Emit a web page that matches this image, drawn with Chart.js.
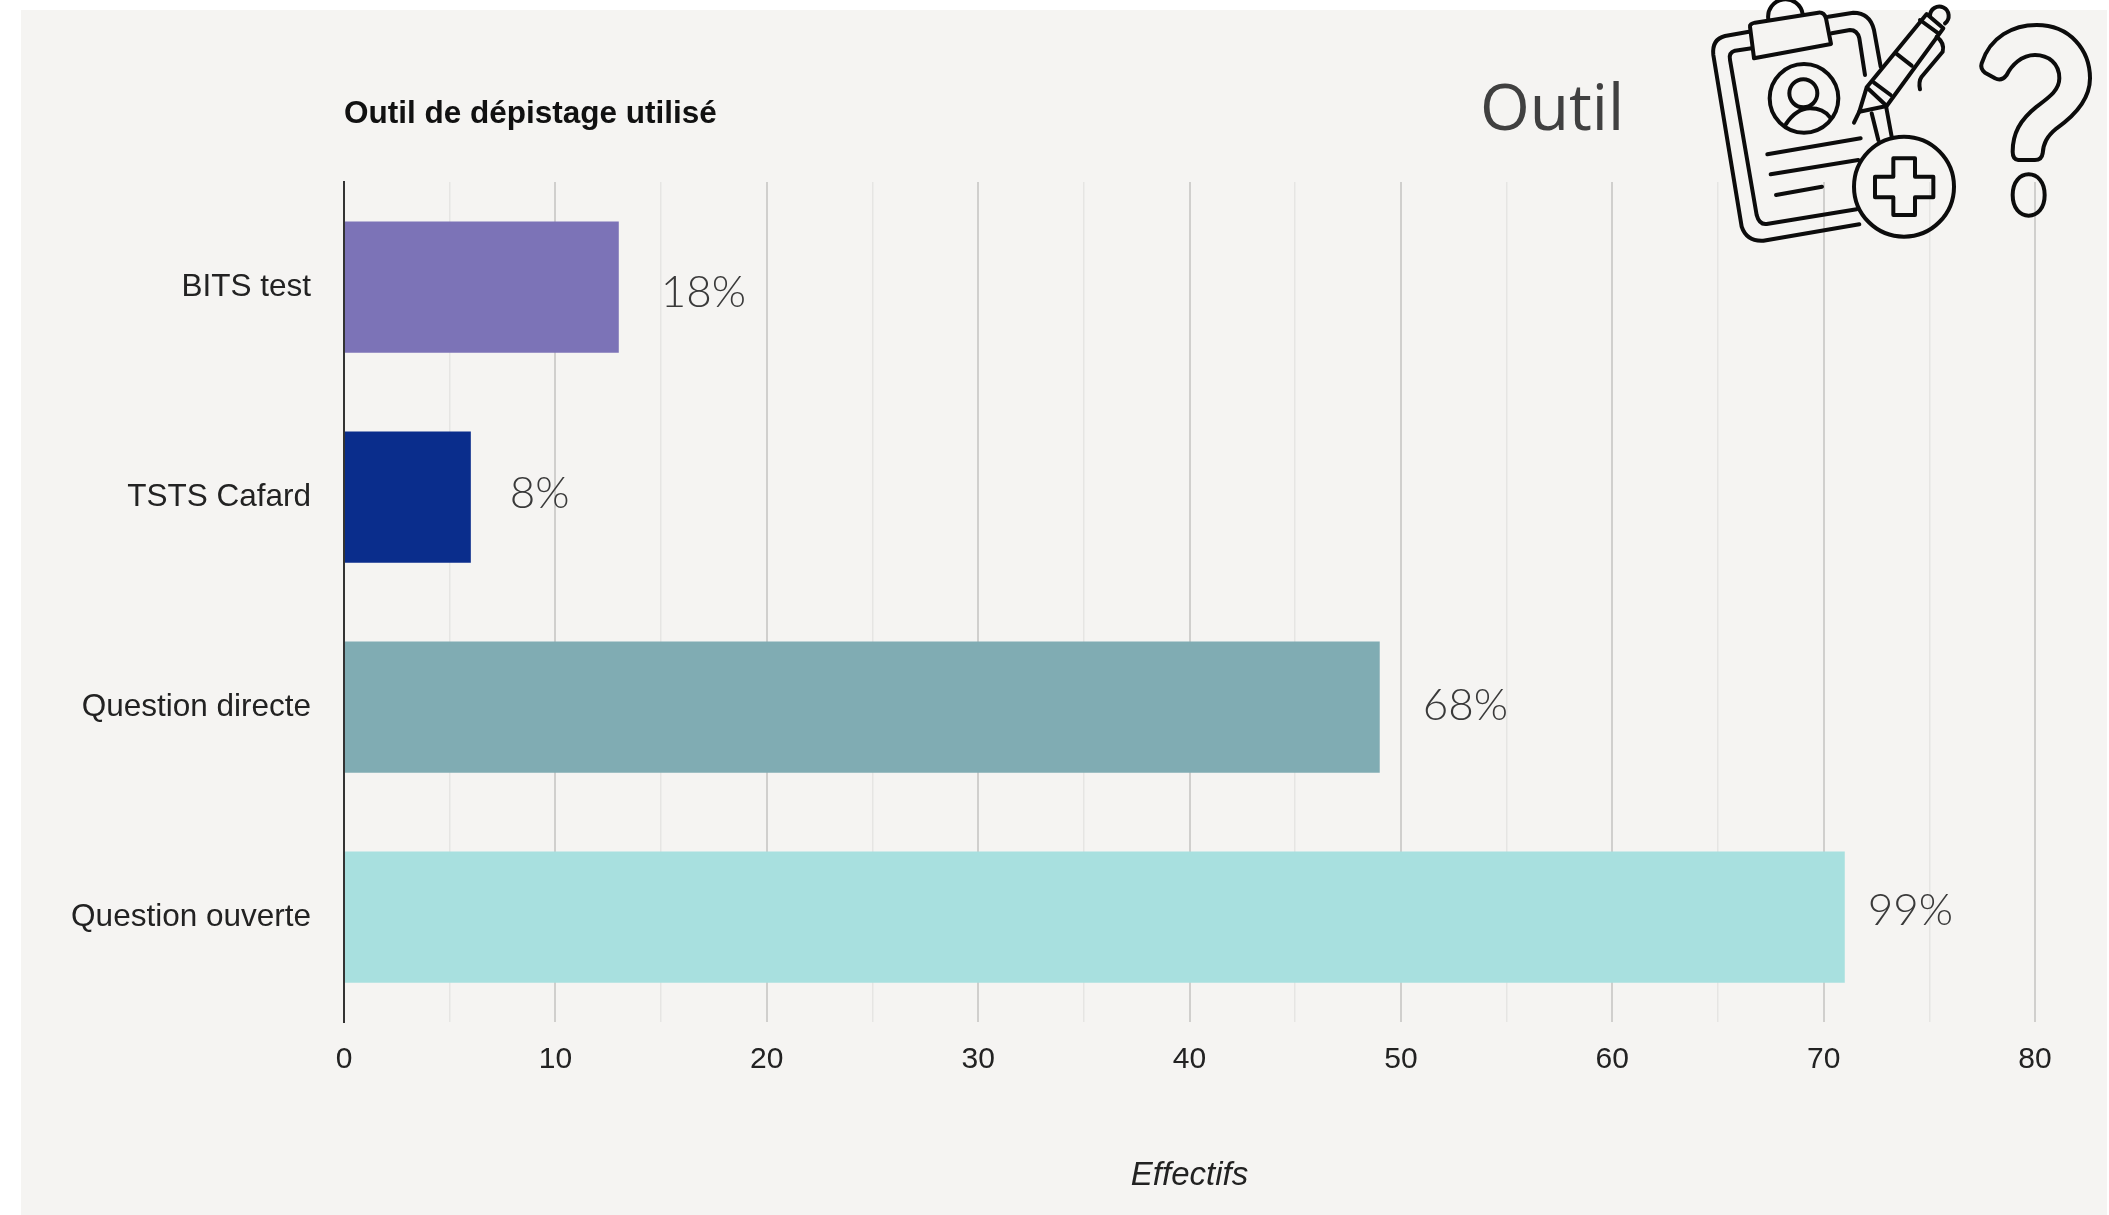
<!DOCTYPE html>
<html lang="fr">
<head>
<meta charset="utf-8">
<title>Outil de dépistage utilisé</title>
<script src="https://cdn.jsdelivr.net/npm/chart.js@4"></script>
<style>
html, body { margin: 0; padding: 0; background: #fff; overflow: hidden; }
canvas { display: block; }
</style>
</head>
<body>
<canvas id="myChart" width="2109" height="1215"></canvas>
<script>
'use strict';

const categories = ['BITS test', 'TSTS Cafard', 'Question directe', 'Question ouverte'];
const effectifs = [13, 6, 49, 71];
const pourcentages = ['18%', '8%', '68%', '99%'];
const couleurs = ['#7c73b7', '#0a2d8c', '#80acb3', '#a8e0df'];
const tickLabels = [0, 10, 20, 30, 40, 50, 60, 70, 80];

// the percent labels were placed by hand in the original, hence the nudges
const decalageX = [42, 39, 43, 23];
const decalageY = [6, -3, -1, -6];

const FOND = '#f5f4f2';
const sansFont = '"Liberation Sans", Arial, sans-serif';

// icon outlines, in units of a 1377x780 box
const iconPaths = [
	// clipboard
	'M297 95 L225 108 Q185 118 190 165 L275 680 Q290 725 340 722 L628 673',
	'M535 50 L610 38 Q660 38 672 90 L692 200',
	'M305 145 L255 152 Q235 158 240 180 L320 645 Q328 675 350 672 L620 628',
	'M545 100 L600 90 Q622 90 628 115 L645 225',
	'M300 80 Q298 72 315 68 L505 38 Q522 36 528 55 L543 132 L312 175 Z',
	'M355 58 A52 52 0 0 1 458 42',
	// person
	'M565 295 A103 103 0 1 1 359 295 A103 103 0 1 1 565 295 Z',
	'M502 280 A42 42 0 1 1 418 280 A42 42 0 1 1 502 280 Z',
	'M408 372 Q440 325 480 325 Q520 325 540 352',
	// text lines
	'M352 463 L632 415 M362 523 L625 480 M378 585 L516 560',
	// medical cross
	'M912 560 A150 150 0 1 1 612 560 A150 150 0 1 1 912 560 Z',
	'M730 475 L795 475 L795 530 L850 530 L850 592 L795 592 L795 645 L730 645 L730 592 L675 592 L675 530 L730 530 Z',
	// pen
	'M650 262 L830 42 L880 85 L710 318 L628 335 Z M650 262 L710 318',
	'M810 60 L865 100 M738 160 L785 197 M672 248 L722 285',
	'M840 48 A28 28 0 1 1 885 70',
	'M860 110 Q885 130 878 155 L815 230 Q805 245 810 268',
	'M628 335 L612 368 M665 340 L685 420 M708 318 L725 410',
	// question mark
	'M995 190 C1020 110 1090 75 1160 75 C1260 75 1320 150 1320 235 C1320 300 1270 350 1220 385 C1190 410 1180 430 1178 460 Q1175 480 1155 480 L1105 480 Q1088 478 1088 455 C1088 400 1110 360 1160 320 C1200 290 1228 270 1228 235 C1228 190 1195 165 1155 165 C1115 165 1085 195 1070 225 Q1055 245 1035 235 L1005 218 Q990 205 995 190 Z',
	'M1184 585 C1184 625 1162 647 1136 647 C1110 647 1088 625 1088 585 C1088 545 1110 523 1136 523 C1162 523 1184 545 1184 585 Z'
];

const decor = {
	id: 'decor',
	beforeDraw(chart) {
		const c = chart.ctx;
		c.save();
		c.fillStyle = FOND;
		c.fillRect(21, 10, 2086, 1205);
		c.restore();
	},
	afterDraw(chart) {
		const c = chart.ctx;
		const x = chart.scales.x;
		const y = chart.scales.y;
		c.save();

		c.fillStyle = '#111';
		c.font = 'bold 31.5px ' + sansFont;
		c.textAlign = 'left';
		c.textBaseline = 'middle';
		c.fillText('Outil de dépistage utilisé', x.left, 114);

		c.fillStyle = '#3a3a3a';
		c.font = '300 44px Lato, sans-serif';
		effectifs.forEach((v, i) => {
			c.fillText(pourcentages[i], x.getPixelForValue(v) + decalageX[i], y.getPixelForValue(i) + decalageY[i]);
		});

		c.fillStyle = '#404040';
		c.font = '64px "Open Sans", sans-serif';
		c.fillText('Outil', 1480, 112);

		c.translate(1650, 0);
		c.scale(1 / 3, 1 / 3);
		c.strokeStyle = '#0c0c0c';
		c.lineWidth = 12;
		c.lineJoin = 'round';
		c.lineCap = 'round';
		iconPaths.forEach(d => c.stroke(new Path2D(d)));
		c.restore();
	}
};

new Chart(document.getElementById('myChart'), {
	type: 'bar',
	plugins: [decor],
	data: {
		labels: categories,
		datasets: [{
			data: effectifs,
			backgroundColor: couleurs,
			barPercentage: 0.625,
			categoryPercentage: 1
		}]
	},
	options: {
		indexAxis: 'y',
		responsive: false,
		animation: false,
		layout: { padding: { top: 182, right: 74 } },
		plugins: { legend: { display: false }, tooltip: { enabled: false } },
		scales: {
			x: {
				min: 0,
				max: 80,
				afterFit: s => { s.height = 193; },
				border: { display: false },
				grid: {
					drawTicks: false,
					color: c => tickLabels.includes(c.tick.value) ? '#d0cfcd' : '#e6e5e3',
					lineWidth: c => tickLabels.includes(c.tick.value) ? 2 : 1.5
				},
				ticks: {
					stepSize: 5,
					autoSkip: false,
					maxRotation: 0,
					padding: 20,
					color: '#222',
					font: { family: sansFont, size: 30 },
					callback: v => tickLabels.includes(v) ? String(v) : ''
				},
				title: {
					display: true,
					text: 'Effectifs',
					color: '#222',
					font: { family: sansFont, size: 33, style: 'italic' },
					padding: { top: 0, bottom: 19 }
				}
			},
			y: {
				afterFit: s => { s.width = 344; },
				border: { display: true, color: '#333', width: 2 },
				grid: { display: false, drawTicks: false },
				ticks: {
					padding: 33,
					color: '#222',
					font: { family: sansFont, size: 31.5 }
				}
			}
		}
	}
});
</script>
</body>
</html>
